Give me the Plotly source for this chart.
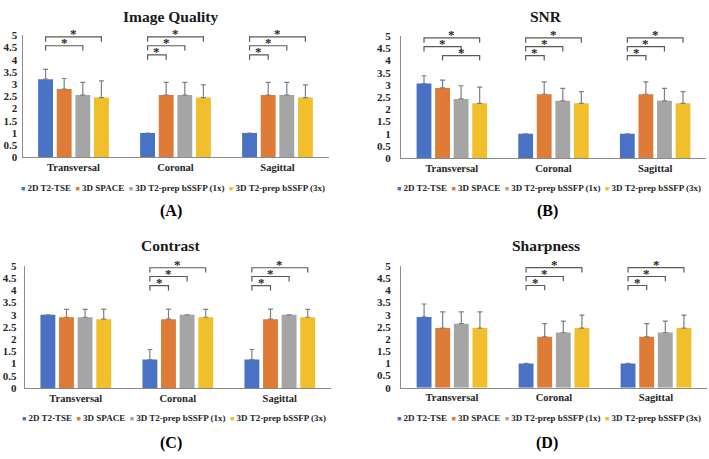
import plotly.graph_objects as go

W, H = 709, 459

categories = ["Transversal", "Coronal", "Sagittal"]
series = ["2D T2-TSE", "3D SPACE", "3D T2-prep bSSFP (1x)", "3D T2-prep bSSFP (3x)"]
colors = ["#4A72C4", "#DE7B36", "#A5A5A5", "#F2BF2C"]
y_ticks = [0, 0.5, 1, 1.5, 2, 2.5, 3, 3.5, 4, 4.5, 5]

# ---- Image Quality (A)
iq_tse = [3.2, 1.0, 1.0]
iq_space = [2.8, 2.55, 2.55]
iq_bssfp1 = [2.55, 2.55, 2.55]
iq_bssfp3 = [2.45, 2.45, 2.45]
iq_tse_sd = [0.4, 0.0, 0.0]
iq_space_sd = [0.43, 0.52, 0.52]
iq_bssfp1_sd = [0.52, 0.52, 0.52]
iq_bssfp3_sd = [0.68, 0.52, 0.52]

# ---- SNR (B)
snr_tse = [3.06, 1.0, 1.0]
snr_space = [2.88, 2.62, 2.62]
snr_bssfp1 = [2.43, 2.35, 2.35]
snr_bssfp3 = [2.25, 2.25, 2.25]
snr_tse_sd = [0.32, 0.0, 0.0]
snr_space_sd = [0.32, 0.51, 0.51]
snr_bssfp1_sd = [0.54, 0.51, 0.51]
snr_bssfp3_sd = [0.66, 0.48, 0.48]

# ---- Contrast (C)
con_tse = [3.0, 1.17, 1.17]
con_space = [2.9, 2.82, 2.82]
con_bssfp1 = [2.9, 3.0, 3.0]
con_bssfp3 = [2.82, 2.9, 2.9]
con_tse_sd = [0.0, 0.41, 0.41]
con_space_sd = [0.32, 0.41, 0.41]
con_bssfp1_sd = [0.32, 0.0, 0.0]
con_bssfp3_sd = [0.41, 0.32, 0.32]

# ---- Sharpness (D)
sh_tse = [2.91, 1.0, 1.0]
sh_space = [2.45, 2.09, 2.09]
sh_bssfp1 = [2.63, 2.27, 2.27]
sh_bssfp3 = [2.45, 2.45, 2.45]
sh_tse_sd = [0.53, 0.0, 0.0]
sh_space_sd = [0.67, 0.54, 0.54]
sh_bssfp1_sd = [0.49, 0.47, 0.47]
sh_bssfp3_sd = [0.67, 0.53, 0.53]

# significance pairs: (category index, series i, series j, bracket level)
iq_sig = [(0, 0, 2, 1), (0, 0, 3, 2),
          (1, 0, 1, 0), (1, 0, 2, 1), (1, 0, 3, 2),
          (2, 0, 1, 0), (2, 0, 2, 1), (2, 0, 3, 2)]
snr_sig = [(0, 1, 3, 0), (0, 0, 2, 1), (0, 0, 3, 2),
           (1, 0, 1, 0), (1, 0, 2, 1), (1, 0, 3, 2),
           (2, 0, 1, 0), (2, 0, 2, 1), (2, 0, 3, 2)]
con_sig = [(1, 0, 1, 0), (1, 0, 2, 1), (1, 0, 3, 2),
           (2, 0, 1, 0), (2, 0, 2, 1), (2, 0, 3, 2)]
sh_sig = [(1, 0, 1, 0), (1, 0, 2, 1), (1, 0, 3, 2),
          (2, 0, 1, 0), (2, 0, 2, 1), (2, 0, 3, 2)]

panels = [
    dict(title="Image Quality", label="(A)",
         means=[iq_tse, iq_space, iq_bssfp1, iq_bssfp3],
         sds=[iq_tse_sd, iq_space_sd, iq_bssfp1_sd, iq_bssfp3_sd], sig=iq_sig,
         box=(22.5, 328.5, 30, 155.5), title_xy=(170, 11), legend_xy=(173, 187),
         label_xy=(171, 211), standoff=2),
    dict(title="SNR", label="(B)",
         means=[snr_tse, snr_space, snr_bssfp1, snr_bssfp3],
         sds=[snr_tse_sd, snr_space_sd, snr_bssfp1_sd, snr_bssfp3_sd], sig=snr_sig,
         box=(401, 706, 31, 156.3), title_xy=(546, 11), legend_xy=(549, 187),
         label_xy=(547, 211), standoff=7),
    dict(title="Contrast", label="(C)",
         means=[con_tse, con_space, con_bssfp1, con_bssfp3],
         sds=[con_tse_sd, con_space_sd, con_bssfp1_sd, con_bssfp3_sd], sig=con_sig,
         box=(24.8, 330.8, 267, 392.3), title_xy=(170, 246), legend_xy=(174, 423),
         label_xy=(171, 449), standoff=5),
    dict(title="Sharpness", label="(D)",
         means=[sh_tse, sh_space, sh_bssfp1, sh_bssfp3],
         sds=[sh_tse_sd, sh_space_sd, sh_bssfp1_sd, sh_bssfp3_sd], sig=sh_sig,
         box=(401, 707, 267, 392), title_xy=(546, 246), legend_xy=(549, 423),
         label_xy=(547, 449), standoff=7),
]

SERIF = "Liberation Serif"
BARGAP = 0.27
BARGROUPGAP = 0.2
slot = (1 - BARGAP) / len(series)
LEVELS = [4.2, 4.57, 4.93]
DROP = 0.2

fig = go.Figure()
layout = dict(width=W, height=H, margin=dict(l=0, r=0, t=0, b=0),
              paper_bgcolor="white", plot_bgcolor="white",
              barmode="group", bargap=BARGAP, bargroupgap=BARGROUPGAP,
              showlegend=False)
shapes = []
annotations = []

for p_i, p in enumerate(panels):
    n = "" if p_i == 0 else str(p_i + 1)
    xa, ya = "x" + n, "y" + n
    x0, x1, yt, yb = p["box"]
    layout["xaxis" + n] = dict(
        domain=[x0 / W, x1 / W], anchor=ya, range=[-0.5, 2.5],
        tickvals=list(range(len(categories))), ticktext=categories,
        showline=True, linecolor="#8C8C8C", linewidth=1, ticks="",
        showgrid=False, zeroline=False, fixedrange=True,
        tickfont=dict(family=SERIF, size=10.5, color="#262626", weight="bold"))
    layout["yaxis" + n] = dict(
        domain=[1 - yb / H, 1 - yt / H], anchor=xa, range=[0, 5],
        tickvals=y_ticks, showline=True, linecolor="#8C8C8C", linewidth=1,
        ticks="", showgrid=False, zeroline=False, fixedrange=True,
        ticklabelstandoff=p["standoff"],
        tickfont=dict(family=SERIF, size=11, color="#262626", weight="bold"))

    for s_i, name in enumerate(series):
        fig.add_trace(go.Bar(
            x=list(range(len(categories))), y=p["means"][s_i], name=name,
            marker=dict(color=colors[s_i], line=dict(width=0)),
            error_y=dict(type="data", array=p["sds"][s_i], symmetric=False,
                         arrayminus=[0] * len(categories), color="#7F7F7F",
                         thickness=1.2, width=2.5),
            xaxis=xa, yaxis=ya, showlegend=False, hoverinfo="skip"))

    for (c, i, j, lvl) in p["sig"]:
        xi = c + (i - (len(series) - 1) / 2) * slot
        xj = c + (j - (len(series) - 1) / 2) * slot
        yl = LEVELS[lvl]
        shapes.append(dict(
            type="path", xref=xa, yref=ya,
            path=f"M {xi},{yl - DROP} L {xi},{yl} L {xj},{yl} L {xj},{yl - DROP}",
            line=dict(color="#595959", width=1.2)))
        annotations.append(dict(
            x=(xi + xj) / 2, y=yl, xref=xa, yref=ya, text="*", showarrow=False,
            xanchor="center", yanchor="middle", yshift=3,
            font=dict(family=SERIF, size=13, color="#262626", weight="bold")))

    tx, ty = p["title_xy"]
    annotations.append(dict(
        x=tx / W, y=1 - ty / H, xref="paper", yref="paper", text=p["title"],
        showarrow=False, xanchor="center", yanchor="middle",
        font=dict(family=SERIF, size=15.5, color="#1A1A1A", weight="bold")))

    lx, ly = p["legend_xy"]
    parts = [f"<span style='color:{colors[k]};font-size:7px'>\u25A0</span> {series[k]}"
             for k in range(len(series))]
    annotations.append(dict(
        x=lx / W, y=1 - ly / H, xref="paper", yref="paper",
        text="\u00a0\u00a0".join(parts), showarrow=False,
        xanchor="center", yanchor="middle",
        font=dict(family=SERIF, size=9, color="#262626", weight="bold")))

    px_, py_ = p["label_xy"]
    annotations.append(dict(
        x=px_ / W, y=1 - py_ / H, xref="paper", yref="paper", text=p["label"],
        showarrow=False, xanchor="center", yanchor="middle",
        font=dict(family=SERIF, size=16, color="#000000", weight="bold")))

layout["shapes"] = shapes
layout["annotations"] = annotations
fig.update_layout(**layout)
fig.write_html("out.html", config={"displayModeBar": False},
               post_script="document.body.style.margin='0';document.body.style.padding='0';")
